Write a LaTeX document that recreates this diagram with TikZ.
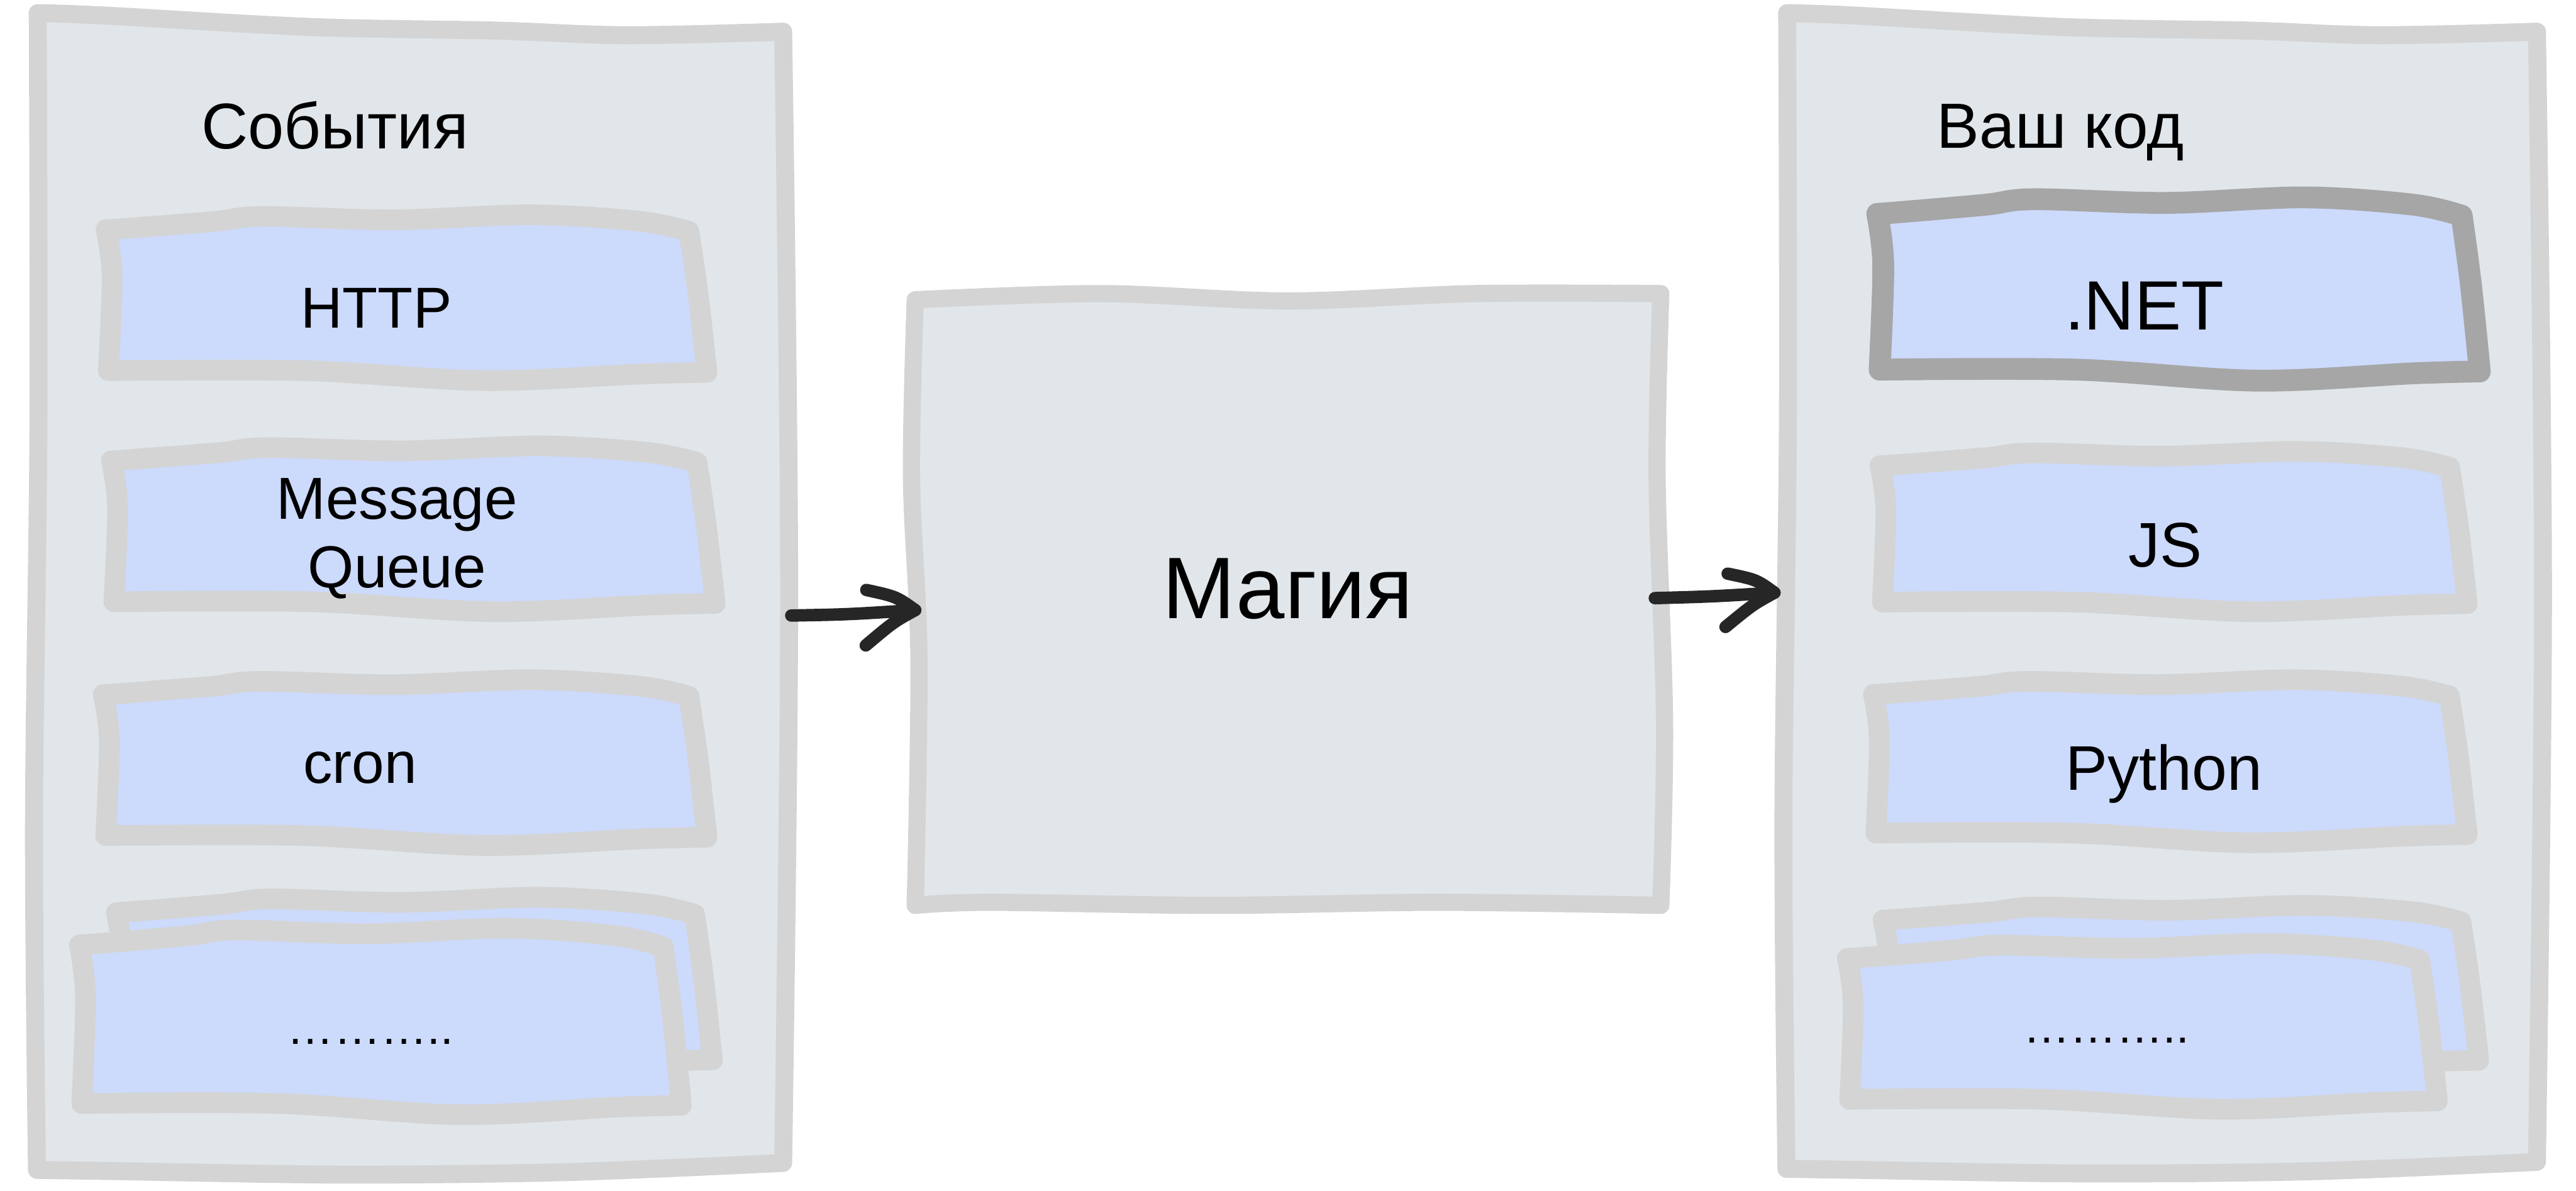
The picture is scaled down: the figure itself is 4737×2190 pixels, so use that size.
\documentclass[tikz,border=0pt]{standalone}
\usepackage{fontspec}
\setmainfont{Liberation Sans}
\usetikzlibrary{calc}

\definecolor{panelfill}{HTML}{E1E6EA}
\definecolor{itemfill}{HTML}{CCDAFC}
\definecolor{sketchgray}{HTML}{D4D4D4}
\definecolor{darkedge}{HTML}{A6A6A6}
\definecolor{ink}{HTML}{262626}

\tikzset{
  panel/.style={draw=sketchgray, fill=panelfill, line width=9.4pt, line join=round, line cap=round},
  magicbox/.style={panel, line width=9pt},
  item/.style={draw=sketchgray, fill=itemfill, line width=10.8pt, line join=round, line cap=round},
  itemdark/.style={item, draw=darkedge, line width=11.4pt},
  label/.style={inner sep=0pt, anchor=base, text=black},
  arrowpen/.style={draw=ink, line width=6.5pt, line cap=round, line join=round},
}

% hand-drawn item card inside the bounding box (x1,y1)-(x2,y2), y grows downwards
\newcommand\itemshape[5]{%
  \pgfmathsetmacro\shw{(#4-#2)*0.01}%
  \pgfmathsetmacro\shh{(#5-#3)*0.01}%
  \begin{scope}[shift={({#2*0.01cm},{-#3*0.01cm})}, x=\shw cm, y=-\shh cm]
    \path[#1] plot[smooth,tension=.55] coordinates {(0,0.09) (0.04,0.08) (0.18,0.04) (0.26,0.01) (0.48,0.03) (0.71,0.0) (0.89,0.04) (0.97,0.1)}
      -- plot[smooth,tension=.55] coordinates {(0.97,0.1) (0.985,0.47) (1.0,0.95)}
      -- plot[smooth,tension=.55] coordinates {(1.0,0.95) (0.89,0.96) (0.63,1.0) (0.33,0.94) (0.004,0.94)}
      -- plot[smooth,tension=.55] coordinates {(0.004,0.94) (0.01,0.37) (0,0.09)} -- cycle;
  \end{scope}}

% tall side panel
\newcommand\panelshape[5]{%
  \pgfmathsetmacro\shw{(#4-#2)*0.01}%
  \pgfmathsetmacro\shh{(#5-#3)*0.01}%
  \begin{scope}[shift={({#2*0.01cm},{-#3*0.01cm})}, x=\shw cm, y=-\shh cm]
    \path[#1] plot[smooth,tension=.55] coordinates {(0.001,0.001) (0.088,0.003) (0.368,0.013) (0.611,0.016) (0.785,0.020) (0.995,0.017)}
      -- plot[smooth,tension=.55] coordinates {(0.995,0.017) (1.003,0.5) (0.995,0.99)}
      -- plot[smooth,tension=.55] coordinates {(0.995,0.99) (0.7,0.998) (0.4,1.0) (0.1,0.997) (0.0,0.996)}
      -- plot[smooth,tension=.55] coordinates {(0.0,0.996) (-0.004,0.7) (0.002,0.35) (0.001,0.001)} -- cycle;
  \end{scope}}

% central square-ish box
\newcommand\magicshape[5]{%
  \pgfmathsetmacro\shw{(#4-#2)*0.01}%
  \pgfmathsetmacro\shh{(#5-#3)*0.01}%
  \begin{scope}[shift={({#2*0.01cm},{-#3*0.01cm})}, x=\shw cm, y=-\shh cm]
    \path[#1] plot[smooth,tension=.55] coordinates {(0,0.01) (0.25,0.0) (0.5,0.012) (0.75,0.0) (1.0,0.0)}
      -- plot[smooth,tension=.55] coordinates {(1.0,0.0) (0.995,0.3) (1.005,0.7) (1.0,1.0)}
      -- plot[smooth,tension=.55] coordinates {(1.0,1.0) (0.7,0.995) (0.4,1.0) (0.1,0.995) (0.0,1.0)}
      -- plot[smooth,tension=.55] coordinates {(0.0,1.0) (0.005,0.6) (-0.005,0.3) (0,0.01)} -- cycle;
  \end{scope}}

\begin{document}
\begin{tikzpicture}[x=0.01cm, y=-0.01cm]
  \useasboundingbox[fill=white] (0,0) rectangle (4737,2190);

  % left column: event sources
  \panelshape{panel}{68}{22}{1447}{2160}
  \itemshape{item}{195}{395}{1300}{700}
  \itemshape{item}{205}{820}{1315}{1125}
  \itemshape{item}{190}{1250}{1300}{1555}
  \itemshape{item}{214}{1650}{1310}{1965}
  \itemshape{item}{146}{1707}{1253}{2050}

  % middle box
  \magicshape{magicbox}{1683}{540}{3054}{1665}

  % right column: runtimes
  \panelshape{panel}{3285}{22}{4672}{2158}
  \itemshape{itemdark}{3452}{363}{4560}{700}
  \itemshape{item}{3457}{830}{4537}{1125}
  \itemshape{item}{3445}{1250}{4537}{1550}
  \itemshape{item}{3463}{1665}{4558}{1965}
  \itemshape{item}{3397}{1735}{4482}{2040}

  % texts
  \node[label, font=\fontsize{33.8}{40}\selectfont] (t-events) at (616,273) {События};
  \node[label, font=\fontsize{30.2}{36}\selectfont] (t-http) at (692,603) {HTTP};
  \node[inner sep=0pt, align=center, font=\fontsize{31}{35.85}\selectfont] (t-mq) at (730,990) {Message\\Queue};
  \node[label, font=\fontsize{30.5}{36}\selectfont] (t-cron) at (662,1440) {cron};
  \node[label, font=\fontsize{24.4}{30}\selectfont] (t-more-l) at (681,1920) {………..};

  \node[label, font=\fontsize{45.7}{54}\selectfont] (t-magic) at (2368,1137) {Магия};

  \node[label, font=\fontsize{33.4}{40}\selectfont] (t-code) at (3789,272) {Ваш код};
  \node[label, font=\fontsize{36.5}{44}\selectfont] (t-net) at (3943,607) {.NET};
  \node[label, font=\fontsize{33}{40}\selectfont] (t-js) at (3982,1042) {JS};
  \node[label, font=\fontsize{33}{40}\selectfont] (t-py) at (3979,1453) {Python};
  \node[label, font=\fontsize{24.4}{30}\selectfont] (t-more-r) at (3873,1918) {………..};

  % connector ends
  \coordinate (events-out) at (1455,1132);
  \coordinate (magic-in)   at (1683,1122);
  \coordinate (magic-out)  at (3043,1100);
  \coordinate (code-in)    at (3263,1090);

  % arrows
  \draw[arrowpen] (events-out) .. controls (1560,1130) .. (magic-in);
  \draw[arrowpen] ($(magic-in)+(-90,-37)$) .. controls ($(magic-in)+(-35,-25)$) .. (magic-in)
                  .. controls ($(magic-in)+(-40,22)$) .. ($(magic-in)+(-91,65)$);
  \draw[arrowpen] (magic-out) .. controls (3150,1097) .. (code-in);
  \draw[arrowpen] ($(code-in)+(-86,-35)$) .. controls ($(code-in)+(-33,-24)$) .. (code-in)
                  .. controls ($(code-in)+(-40,22)$) .. ($(code-in)+(-90,63)$);
\end{tikzpicture}
\end{document}
